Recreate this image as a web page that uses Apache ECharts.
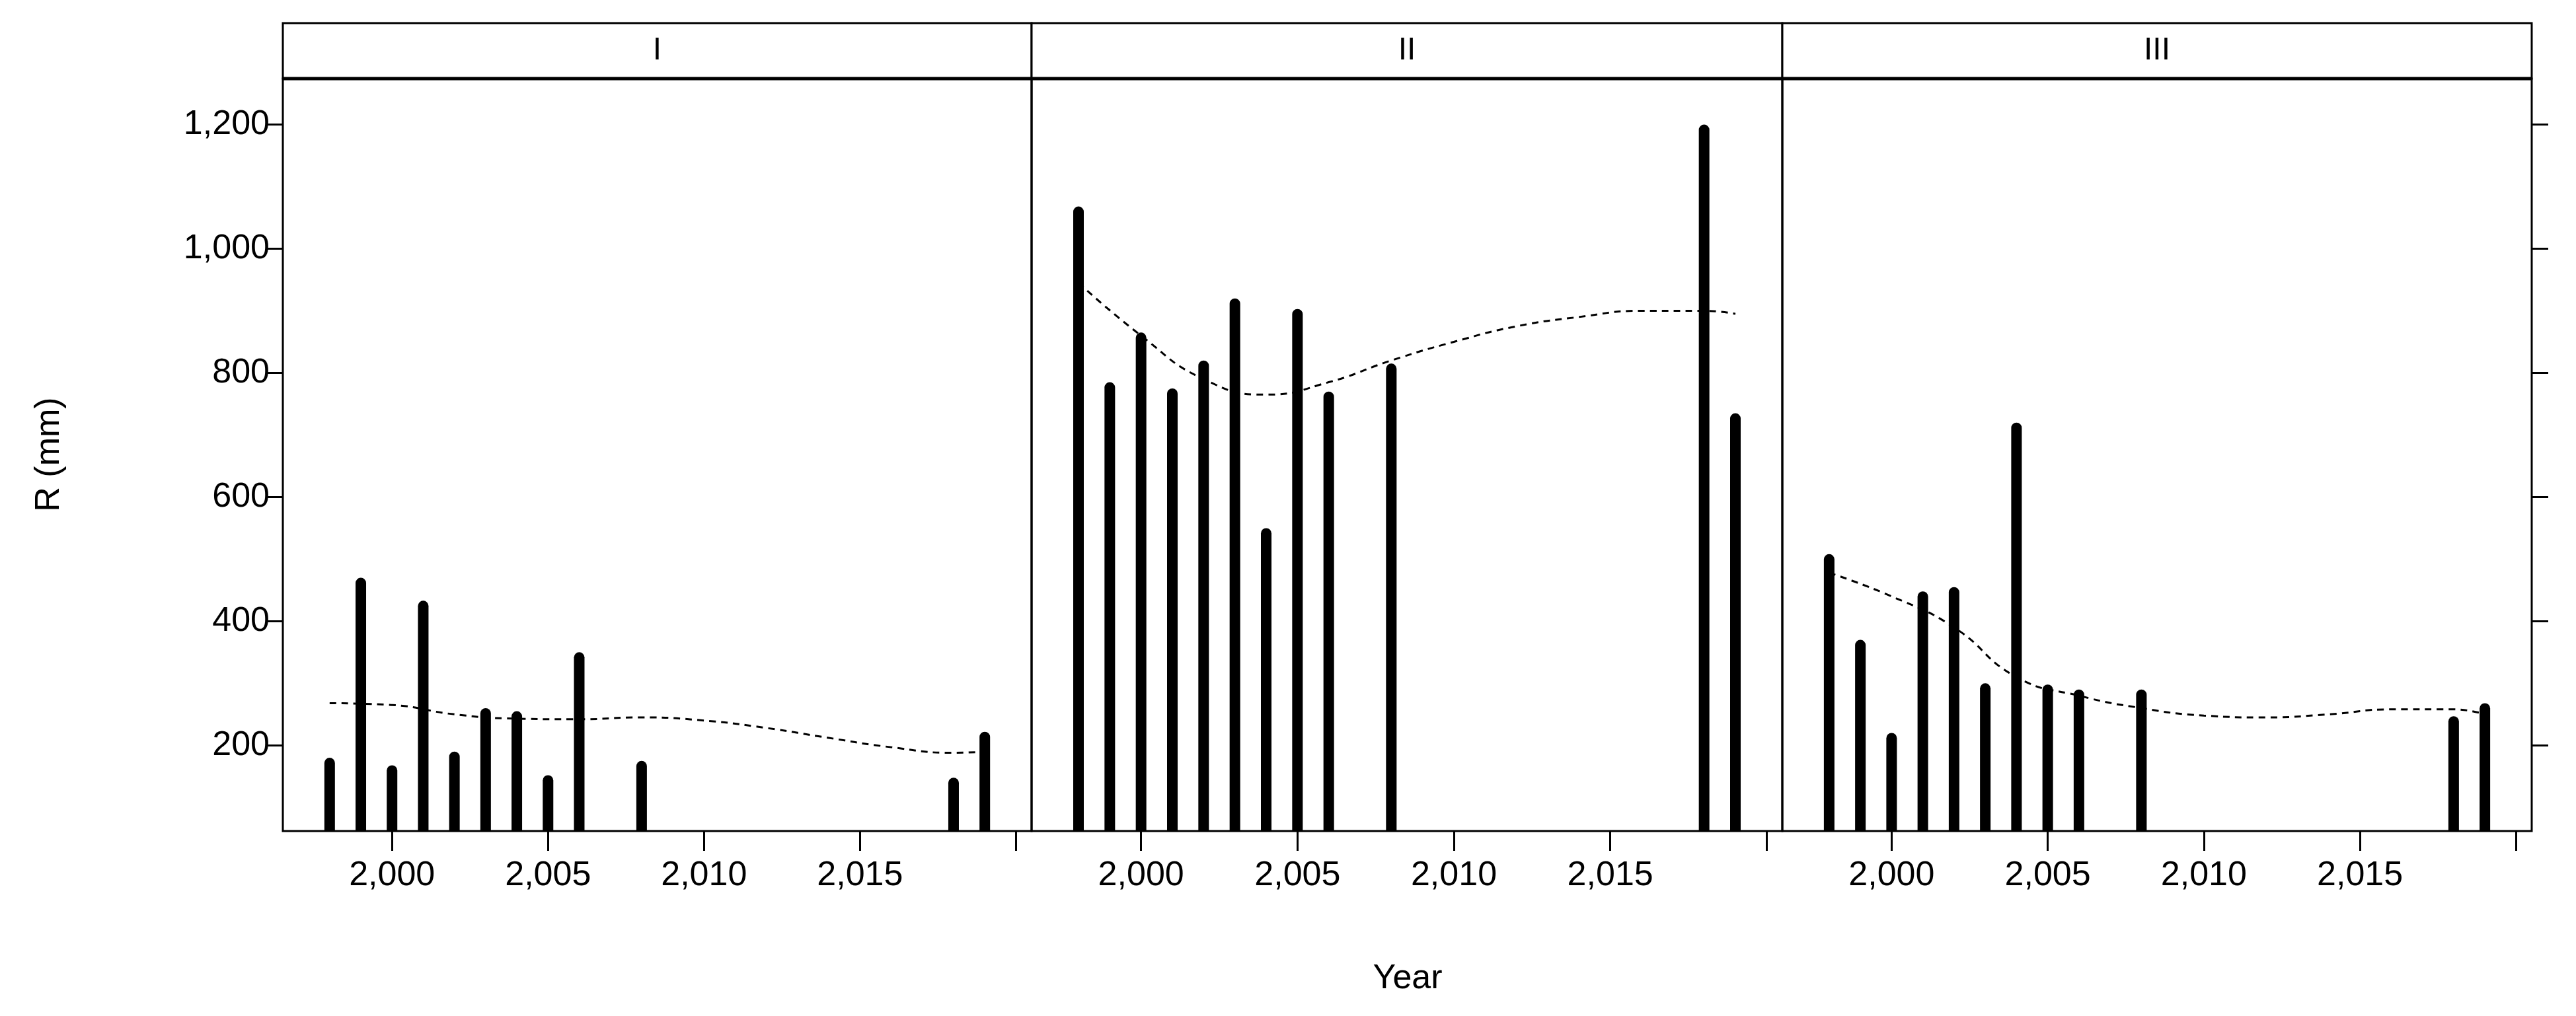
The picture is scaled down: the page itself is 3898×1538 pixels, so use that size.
<!DOCTYPE html>
<html>
<head>
<meta charset="utf-8">
<script src="https://cdn.jsdelivr.net/npm/echarts@6/dist/echarts.min.js"></script>
<style>html,body{margin:0;padding:0;background:#fff}#main{width:3898px;height:1538px}</style>
</head>
<body>
<div id="main"></div>
<script>
// 年份与三个分区的数据
var years = [1998, 1999, 2000, 2001, 2002, 2003, 2004, 2005, 2006, 2008, 2018, 2019];
var rainI = [180, 470, 168, 433, 190, 260, 255, 152, 350, 175, 148, 222];
var rainII = [1068, 785, 865, 775, 820, 920, 550, 903, 770, 815, 1200, 735];
var rainIII = [508, 370, 220, 448, 455, 300, 720, 298, 290, 290, 247, 268];

// 平滑趋势线
var trendYears = [1998, 2000, 2002, 2004, 2006, 2008, 2010, 2012, 2014, 2016, 2018, 2019];
var trendI = [268, 265, 250, 243, 242, 245, 240, 228, 212, 197, 188, 190];
var trendII = [945, 860, 790, 765, 785, 820, 850, 875, 890, 900, 900, 895];
var trendIII = [478, 440, 390, 310, 280, 260, 248, 245, 250, 258, 258, 250];

var panelNames = ["I", "II", "III"];
var yTicks = [200, 400, 600, 800, 1000, 1200];
var xTicks = [2000, 2005, 2010, 2015, 2020];
var xLabels = [2000, 2005, 2010, 2015];

var font = "Liberation Sans";
var gridLeft = [428, 1561, 2697];
var gridWidth = [1133, 1136, 1134];
var gridTop = 119, gridHeight = 1139;

var grids = [], xAxes = [], yAxes = [], series = [], graphics = [];
var rains = [rainI, rainII, rainIII];
var trends = [trendI, trendII, trendIII];

for (var i = 0; i < 3; i++) {
	grids.push({left: gridLeft[i], top: gridTop, width: gridWidth[i], height: gridHeight,
		show: true, borderColor: "#000", borderWidth: 3});
	xAxes.push({
		type: "value", gridIndex: i, min: 1996.5, max: 2020.5,
		axisLine: {show: false},
		axisTick: {show: true, length: 30, lineStyle: {color: "#000", width: 3}, customValues: xTicks},
		axisLabel: {show: true, color: "#000", fontSize: 52, fontFamily: font, margin: 42, customValues: xLabels},
		splitLine: {show: false}
	});
	yAxes.push({
		type: "value", gridIndex: i, min: 62, max: 1274,
		position: i == 2 ? "right" : "left",
		axisLine: {show: false},
		axisTick: {show: i != 1, length: 25, lineStyle: {color: "#000", width: 3}, customValues: yTicks},
		axisLabel: {show: i == 0, color: "#000", fontSize: 52, fontFamily: font, margin: 20, customValues: yTicks},
		splitLine: {show: false}
	});
	var barData = [], lineData = [];
	for (var k = 0; k < years.length; k++) barData.push([years[k], rains[i][k]]);
	for (var k = 0; k < trendYears.length; k++) lineData.push([trendYears[k], trends[i][k]]);
	series.push({
		type: "bar", xAxisIndex: i, yAxisIndex: i, data: barData, barWidth: 16,
		itemStyle: {color: "#000", borderRadius: [8, 8, 0, 0]}, silent: true
	});
	series.push({
		type: "line", xAxisIndex: i, yAxisIndex: i, data: lineData, smooth: true,
		showSymbol: false, lineStyle: {color: "#000", width: 3, type: [10, 8]}, silent: true
	});
	// 分区标题条
	graphics.push({type: "rect", shape: {x: gridLeft[i], y: 35, width: gridWidth[i], height: gridTop - 35},
		style: {fill: "#fff", stroke: "#000", lineWidth: 3}});
	graphics.push({type: "text", x: gridLeft[i] + gridWidth[i] / 2, y: 77,
		style: {text: panelNames[i], font: "48px " + font, fill: "#000", align: "center", verticalAlign: "middle"}});
}
graphics.push({type: "line", shape: {x1: 428, y1: gridTop, x2: 3831, y2: gridTop}, style: {stroke: "#000", lineWidth: 5}});
graphics.push({type: "text", x: 75, y: 688, rotation: Math.PI / 2,
	style: {text: "R (mm)", font: "52px " + font, fill: "#000", align: "center", verticalAlign: "middle"}});
graphics.push({type: "text", x: 2130, y: 1482,
	style: {text: "Year", font: "52px " + font, fill: "#000", align: "center", verticalAlign: "middle"}});

var myChart = echarts.init(document.getElementById("main"));
myChart.setOption({
	animation: false,
	grid: grids, xAxis: xAxes, yAxis: yAxes, series: series,
	graphic: graphics
});
</script>
</body>
</html>
